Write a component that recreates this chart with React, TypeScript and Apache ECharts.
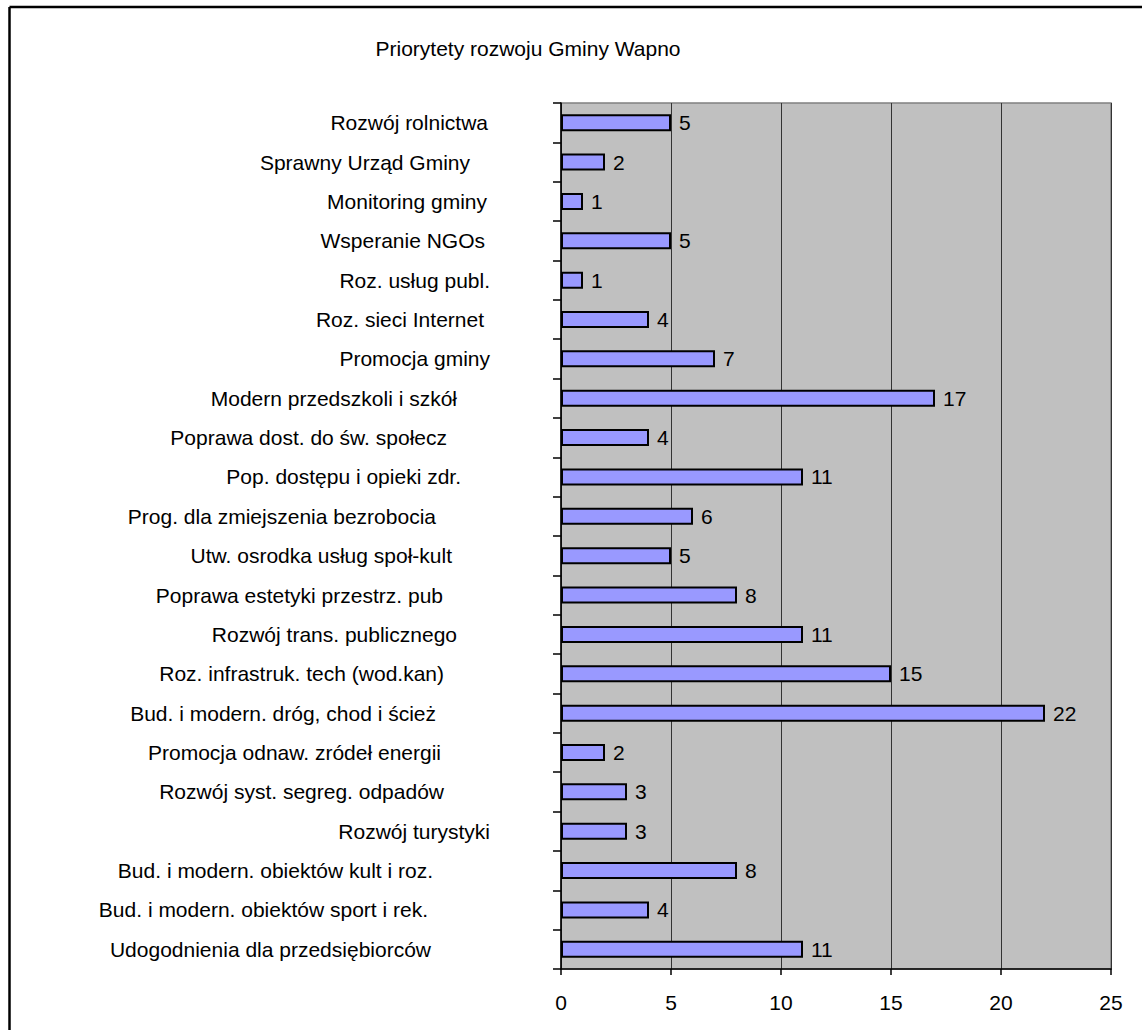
import React, { useEffect, useRef } from "react";
import * as echarts from "echarts";

const categories: string[] = [
  "Rozwój rolnictwa",
  "Sprawny Urząd Gminy",
  "Monitoring gminy",
  "Wsperanie NGOs",
  "Roz. usług publ.",
  "Roz. sieci Internet",
  "Promocja gminy",
  "Modern przedszkoli i szkół",
  "Poprawa dost. do św. społecz",
  "Pop. dostępu i opieki zdr.",
  "Prog. dla zmiejszenia bezrobocia",
  "Utw. osrodka usług społ-kult",
  "Poprawa estetyki przestrz. pub",
  "Rozwój trans. publicznego",
  "Roz. infrastruk. tech (wod.kan)",
  "Bud. i modern. dróg, chod i ścież",
  "Promocja odnaw. zródeł energii",
  "Rozwój syst. segreg. odpadów",
  "Rozwój turystyki",
  "Bud. i modern. obiektów kult i roz.",
  "Bud. i modern. obiektów sport i rek.",
  "Udogodnienia dla przedsiębiorców",
];

const values: number[] = [5, 2, 1, 5, 1, 4, 7, 17, 4, 11, 6, 5, 8, 11, 15, 22, 2, 3, 3, 8, 4, 11];

const xTicks = { min: 0, max: 25, interval: 5 };
const titleText = "Priorytety rozwoju Gminy Wapno";

const FONT = "'Liberation Sans', Arial, sans-serif";
const FS = 21;

function measure(text: string): number {
  try {
    const ctx = document.createElement("canvas").getContext("2d");
    if (!ctx) return text.length * 10;
    ctx.font = `${FS}px 'Liberation Sans', Arial, sans-serif`;
    return ctx.measureText(text).width;
  } catch (e) {
    return text.length * 10;
  }
}

export default function App() {
  const ref = useRef<HTMLDivElement>(null);
  useEffect(() => {
    if (!ref.current) return;
    const chart = echarts.init(ref.current, null, { renderer: "svg" });
    const rich: Record<string, any> = {};
    categories.forEach((c, i) => {
      const w = measure(c);
      rich["c" + i] = {
        fontSize: FS,
        fontFamily: FONT,
        color: "#000",
        padding: [0, Math.round(7 + 0.345 * w), 0, 0],
      };
    });
    chart.setOption({
      animation: false,
      backgroundColor: "#ffffff",
      textStyle: { fontFamily: FONT },
      grid: {
        left: 561,
        top: 103,
        right: 31,
        bottom: 61,
        show: true,
        backgroundColor: "#C0C0C0",
        borderColor: "#808080",
        borderWidth: 1.5,
      },
      graphic: [
        {
          type: "line",
          shape: { x1: 9.5, y1: 7, x2: 1142, y2: 7 },
          style: { stroke: "#000", lineWidth: 2.5 },
        },
        {
          type: "line",
          shape: { x1: 9.5, y1: 7, x2: 9.5, y2: 1030 },
          style: { stroke: "#000", lineWidth: 2.5 },
        },
        {
          type: "text",
          x: 528,
          y: 48,
          style: {
            text: titleText,
            fontSize: FS,
            fontFamily: FONT,
            fill: "#000",
            textAlign: "center",
            textVerticalAlign: "middle",
          },
        },
      ],
      xAxis: {
        type: "value",
        min: xTicks.min,
        max: xTicks.max,
        interval: xTicks.interval,
        axisLine: { show: true, lineStyle: { color: "#000", width: 1.5 } },
        axisTick: { show: true, length: 6, lineStyle: { color: "#000", width: 1.5 } },
        axisLabel: { fontSize: FS, color: "#000", margin: 23, fontFamily: FONT },
        splitLine: { show: true, lineStyle: { color: "#333", width: 1 } },
      },
      yAxis: {
        type: "category",
        data: categories,
        inverse: true,
        axisLine: { show: true, lineStyle: { color: "#000", width: 1.5 } },
        axisTick: { show: true, length: 8, alignWithLabel: false, lineStyle: { color: "#000", width: 1.5 } },
        axisLabel: {
          fontSize: FS,
          color: "#000",
          margin: 12,
          fontFamily: FONT,
          interval: 0,
          formatter: (v: string, i: number) => `{c${i}|${v}}`,
          rich,
        },
        splitLine: { show: false },
      },
      series: [
        {
          type: "bar",
          data: values,
          barWidth: 17,
          itemStyle: { color: "#9999FF", borderColor: "#000", borderWidth: 2 },
          label: {
            show: true,
            position: "right",
            distance: 8,
            fontSize: FS,
            color: "#000",
            fontFamily: FONT,
          },
        },
      ],
    });
    return () => chart.dispose();
  }, []);
  return (
    <div
      ref={ref}
      style={{ position: "absolute", left: 0, top: 0, width: 1142, height: 1030 }}
    />
  );
}
